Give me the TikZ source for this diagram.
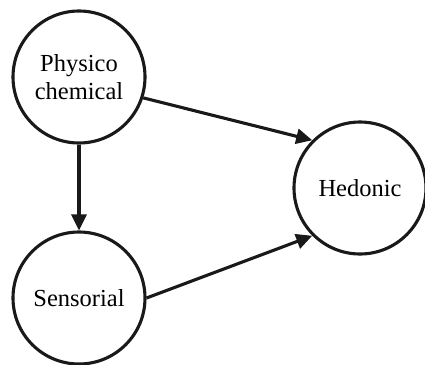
\documentclass[tikz,border=0pt]{standalone}
\usepackage{fontspec}
\setmainfont{Liberation Serif}
\usetikzlibrary{arrows.meta}
\begin{document}
\begin{tikzpicture}[x=1pt,y=-1pt,
  factor/.style={draw=black!90, line width=3.1pt, circle, minimum size=132pt, inner sep=0pt, align=center, font=\fontsize{24.5}{28}\selectfont},
  conn/.style={draw=black!90, line width=3.1pt, -{Triangle[length=16pt,width=15pt]}}]
\useasboundingbox (0,0) rectangle (425,364);
\node[factor] (pc) at (79,77) {Physico\\chemical};
\node[factor] (se) at (79,298) {Sensorial};
\node[factor] (he) at (360,188) {Hedonic};
\draw[conn] (pc.-90) -- (se.90);
\draw[conn] (pc.-18) -- (he.135);
\draw[conn] (se.0) -- (he.225);
\end{tikzpicture}
\end{document}
